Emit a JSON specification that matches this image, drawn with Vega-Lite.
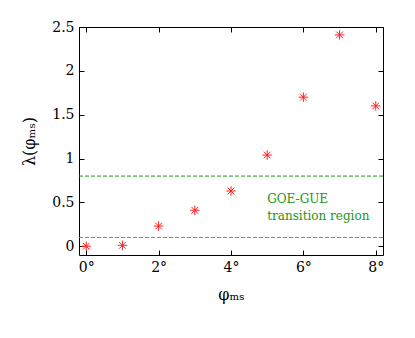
{
  "$schema": "https://vega.github.io/schema/vega-lite/v6.json",
  "width": 304,
  "height": 228,
  "autosize": "none",
  "padding": {"left": 79, "top": 27, "right": 32, "bottom": 83},
  "config": {
    "view": {"stroke": "#000000", "strokeWidth": 1},
    "font": "DejaVu Serif",
    "axis": {
      "labelFont": "DejaVu Serif",
      "titleFont": "DejaVu Serif",
      "labelFontSize": 14,
      "titleFontSize": 16,
      "titleFontWeight": "normal",
      "labelColor": "#000000",
      "titleColor": "#000000",
      "grid": false,
      "domain": false,
      "tickColor": "#000000",
      "tickSize": -5,
      "tickWidth": 1
    }
  },
  "datasets": {
    "pts": [
      {"phi": 0, "lam": 0.0},
      {"phi": 1, "lam": 0.01},
      {"phi": 2, "lam": 0.23},
      {"phi": 3, "lam": 0.41},
      {"phi": 4, "lam": 0.63},
      {"phi": 5, "lam": 1.04},
      {"phi": 6, "lam": 1.70},
      {"phi": 7, "lam": 2.41},
      {"phi": 8, "lam": 1.60}
    ],
    "lines": [{"y": 0.8}, {"y": 0.1}],
    "notes": [
      {"x": 5.0, "y": 0.54, "t": "GOE-GUE"},
      {"x": 5.0, "y": 0.34, "t": "transition region"}
    ]
  },
  "resolve": {"axis": {"x": "independent", "y": "independent"}},
  "layer": [
    {
      "data": {"name": "lines"},
      "mark": {"type": "rule", "strokeDash": [4, 2], "strokeWidth": 1},
      "encoding": {
        "y": {"field": "y", "type": "quantitative", "scale": {"domain": [-0.1, 2.5], "nice": false, "zero": false},
          "axis": {"orient": "right", "labels": false, "title": null, "values": [0, 0.5, 1, 1.5, 2, 2.5]}},
        "color": {"condition": {"test": "datum.y < 0.5", "value": "#3cb43c"}, "value": "#1a961a"}
      }
    },
    {
      "data": {"name": "notes"},
      "mark": {"type": "text", "align": "left", "baseline": "middle", "font": "DejaVu Serif", "fontSize": 12, "color": "#1a961a"},
      "encoding": {
        "x": {"field": "x", "type": "quantitative", "scale": {"domain": [-0.2, 8.2], "nice": false, "zero": false},
          "axis": {"orient": "top", "labels": false, "title": null, "values": [0, 2, 4, 6, 8]}},
        "y": {"field": "y", "type": "quantitative", "axis": null},
        "text": {"field": "t"}
      }
    },
    {
      "data": {"name": "pts"},
      "mark": {"type": "point", "shape": "M-1,0L1,0M0,-1L0,1M-0.7,-0.7L0.7,0.7M-0.7,0.7L0.7,-0.7", "filled": false, "color": "#ff2020", "strokeWidth": 1, "size": 90, "opacity": 1},
      "encoding": {
        "x": {"field": "phi", "type": "quantitative",
          "axis": {"orient": "bottom", "title": "φₘₛ", "values": [0, 2, 4, 6, 8], "labelExpr": "datum.value + '°'", "labelPadding": 10, "titlePadding": 12}},
        "y": {"field": "lam", "type": "quantitative",
          "axis": {"orient": "left", "title": "λ(φₘₛ)", "values": [0, 0.5, 1, 1.5, 2, 2.5], "format": "~g", "labelPadding": 10, "titlePadding": 14}}
      }
    }
  ]
}
